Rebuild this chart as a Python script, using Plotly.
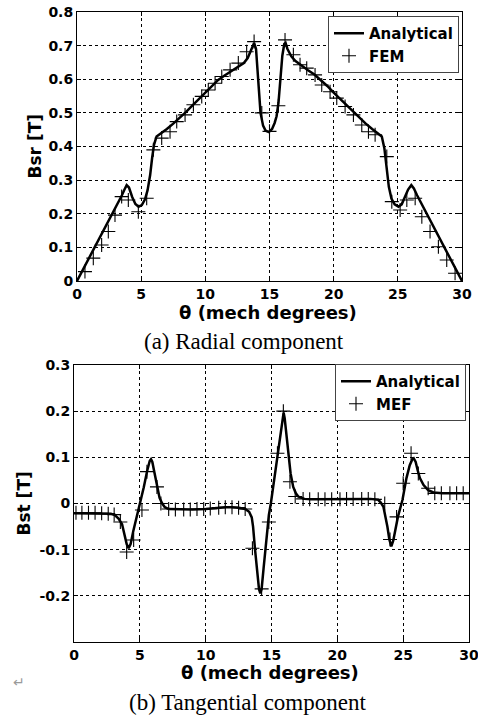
import plotly.graph_objects as go

# ---------------- Data: (a) radial component Bsr ----------------
theta_bsr_analytical = [0, 0.5, 1, 1.5, 2, 2.5, 3, 3.5, 3.7, 3.87, 4.05, 4.3, 4.55, 4.8, 5.05, 5.3, 5.5,
                        5.7, 5.85, 6.0, 6.2, 6.6, 7.0, 7.5, 8.0, 8.5, 9.0, 9.5, 10.0, 10.5, 11.0, 11.5,
                        12.0, 12.5, 13.0, 13.3, 13.55, 13.8, 13.95, 14.1, 14.3, 14.5, 14.7, 14.95,
                        15.2, 15.4, 15.55, 15.7, 15.85, 16.0, 16.15, 16.25, 16.4, 16.7, 17.0, 17.5,
                        18.0, 18.5, 19.0, 19.5, 20.0, 20.5, 21.0, 21.5, 22.0, 22.5, 23.0, 23.4, 23.75,
                        23.95, 24.1, 24.3, 24.5, 24.75, 25.05, 25.3, 25.55, 25.8, 26.05, 26.25, 26.5,
                        27.0, 27.5, 28.0, 28.5, 29.0, 29.5, 30.0]
bsr_analytical = [0.0, 0.036, 0.073, 0.109, 0.146, 0.182, 0.219, 0.255, 0.272, 0.285, 0.278, 0.25,
                  0.229, 0.221, 0.226, 0.243, 0.27, 0.315, 0.365, 0.405, 0.43, 0.44, 0.452, 0.468,
                  0.485, 0.503, 0.522, 0.541, 0.56, 0.58, 0.598, 0.611, 0.623, 0.635, 0.648, 0.663,
                  0.685, 0.708, 0.69, 0.62, 0.50, 0.462, 0.447, 0.443, 0.452, 0.47, 0.49, 0.53, 0.60,
                  0.67, 0.705, 0.708, 0.69, 0.668, 0.655, 0.64, 0.627, 0.614, 0.598, 0.58, 0.56,
                  0.541, 0.522, 0.503, 0.485, 0.468, 0.452, 0.44, 0.43, 0.395, 0.34, 0.28, 0.245,
                  0.228, 0.221, 0.228, 0.25, 0.272, 0.285, 0.275, 0.255, 0.218, 0.182, 0.145,
                  0.109, 0.073, 0.036, 0.0]

theta_bsr_fem = [0.62, 1.27, 1.92, 2.44, 2.96, 3.48, 4.0, 4.78, 5.43, 5.95, 6.6, 7.25, 7.77, 8.42,
                 9.07, 9.72, 10.23, 10.76, 11.28, 11.93, 12.57, 13.22, 13.8, 14.4, 15.0, 15.69,
                 16.21, 16.86, 17.38, 17.9, 18.55, 19.07, 19.72, 20.24, 20.89, 21.54, 22.19, 22.71,
                 23.23, 24.14, 24.53, 25.18, 25.7, 26.35, 26.87, 27.51, 28.16, 28.81, 29.46]
bsr_fem = [0.028, 0.068, 0.107, 0.147, 0.196, 0.251, 0.241, 0.206, 0.246, 0.39, 0.425, 0.444,
           0.474, 0.494, 0.524, 0.549, 0.568, 0.588, 0.608, 0.628, 0.648, 0.682, 0.712, 0.50,
           0.445, 0.521, 0.717, 0.673, 0.643, 0.633, 0.613, 0.583, 0.563, 0.544, 0.519, 0.494,
           0.464, 0.444, 0.435, 0.37, 0.236, 0.211, 0.241, 0.246, 0.191, 0.147, 0.102, 0.0625,
           0.023]

# ---------------- Data: (b) tangential component Bst ----------------
theta_bst_analytical = [0, 1, 2, 2.8, 3.1, 3.4, 3.65, 3.85, 4.0, 4.15, 4.3, 4.5, 4.75, 5.04, 5.3,
                        5.55, 5.75, 5.85, 5.95, 6.1, 6.3, 6.5, 6.7, 6.9, 7.2, 8, 9, 10, 11, 11.5,
                        12.0, 12.5, 13.0, 13.3, 13.5, 13.6, 13.75, 13.9, 14.05, 14.15, 14.25, 14.4,
                        14.6, 14.8, 14.95, 15.2, 15.45, 15.7, 15.85, 15.92, 16.0, 16.15, 16.27,
                        16.45, 16.65, 16.85, 17.03, 17.5, 18, 19, 20, 21, 22, 22.5, 23.1, 23.3,
                        23.5, 23.65, 23.8, 23.95, 24.1, 24.25, 24.45, 24.6, 24.95, 25.25, 25.5,
                        25.7, 25.8, 25.95, 26.1, 26.27, 26.55, 26.9, 27.3, 28, 29, 30]
bst_analytical = [-0.021, -0.021, -0.021, -0.022, -0.025, -0.033, -0.045, -0.068, -0.088, -0.097,
                  -0.088, -0.06, -0.03, 0.0, 0.035, 0.07, 0.092, 0.096, 0.09, 0.068, 0.036, 0.012,
                  0.0, -0.008, -0.012, -0.013, -0.013, -0.012, -0.009, -0.008, -0.008, -0.009,
                  -0.012, -0.018, -0.03, -0.05, -0.10, -0.15, -0.185, -0.195, -0.185, -0.14,
                  -0.08, -0.025, 0.0, 0.05, 0.10, 0.16, 0.19, 0.197, 0.185, 0.14, 0.108, 0.065,
                  0.036, 0.022, 0.015, 0.01, 0.009, 0.009, 0.009, 0.01, 0.01, 0.01, 0.008, 0.002,
                  -0.007, -0.025, -0.05, -0.078, -0.093, -0.08, -0.05, -0.029, 0.008, 0.055,
                  0.083, 0.096, 0.098, 0.09, 0.072, 0.055, 0.04, 0.029, 0.024, 0.022, 0.022, 0.022]

theta_bst_mef = [0.15, 0.6, 1.1, 1.6, 2.1, 2.6, 3.05, 3.52, 4.0, 4.53, 5.16, 5.54, 6.3, 6.6, 7.19,
                 7.7, 8.33, 8.83, 9.34, 9.85, 10.35, 10.99, 11.49, 12.0, 12.5, 13.0, 13.55, 14.25,
                 14.8, 15.45, 15.9, 16.4, 16.8, 17.4, 17.9, 18.55, 19.06, 19.57, 20.2, 20.7, 21.2,
                 21.85, 22.35, 22.85, 23.6, 24.0, 24.5, 25.0, 25.6, 26.15, 26.9, 27.4, 27.9,
                 28.55, 29.06, 29.56]
bst_mef = [-0.02, -0.02, -0.02, -0.02, -0.021, -0.022, -0.024, -0.04, -0.105, -0.079, -0.014,
           0.069, 0.036, 0.0, -0.012, -0.013, -0.013, -0.013, -0.012, -0.012, -0.011, -0.009,
           -0.008, -0.008, -0.009, -0.012, -0.097, -0.185, -0.04, 0.109, 0.200, 0.047, 0.015,
           0.01, 0.009, 0.009, 0.009, 0.009, 0.009, 0.01, 0.01, 0.01, 0.01, 0.009, 0.0, -0.078,
           -0.029, 0.044, 0.109, 0.065, 0.033, 0.022, 0.022, 0.022, 0.022, 0.022]

x_ticks = [0, 5, 10, 15, 20, 25, 30]
bsr_ticks = [0, 0.1, 0.2, 0.3, 0.4, 0.5, 0.6, 0.7, 0.8]
bst_ticks = [-0.2, -0.1, 0, 0.1, 0.2, 0.3]
bst_tick_text = ["-0.2", "-0.1", "0", "0.1", "0.2", "0.3"]

W, H = 478, 725
BOLD = dict(family="DejaVu Sans", size=14, color="black", weight="bold")
SERIF = dict(family="Liberation Serif", size=23, color="black")

fig = go.Figure()
line_style = dict(color="black", width=2.5)
marker_style = dict(symbol="cross-thin", size=10, color="black", line=dict(color="black", width=1.1))

fig.add_trace(go.Scatter(x=theta_bsr_analytical, y=bsr_analytical, mode="lines", name="Analytical",
                         line=line_style, xaxis="x", yaxis="y", legend="legend"))
fig.add_trace(go.Scatter(x=theta_bsr_fem, y=bsr_fem, mode="markers", name="FEM",
                         marker=marker_style, xaxis="x", yaxis="y", legend="legend"))
fig.add_trace(go.Scatter(x=theta_bst_analytical, y=bst_analytical, mode="lines", name="Analytical",
                         line=line_style, xaxis="x2", yaxis="y2", legend="legend2"))
fig.add_trace(go.Scatter(x=theta_bst_mef, y=bst_mef, mode="markers", name="MEF",
                         marker=marker_style, xaxis="x2", yaxis="y2", legend="legend2"))

axis_common = dict(showline=True, linecolor="black", linewidth=1, mirror="ticks",
                   ticks="inside", ticklen=4, tickcolor="black",
                   showgrid=True, gridcolor="black", gridwidth=1, griddash="3px,3px",
                   zeroline=False, tickfont=BOLD, automargin=False,
                   ticklabeloverflow="allow")

fig.update_layout(
    width=W, height=H,
    margin=dict(l=0, r=0, t=0, b=0),
    paper_bgcolor="white", plot_bgcolor="white",
    xaxis=dict(axis_common, domain=[77 / W, 462 / W], range=[0, 30], tickvals=x_ticks, anchor="y"),
    yaxis=dict(axis_common, domain=[1 - 281 / H, 1 - 12 / H], range=[0, 0.8], tickvals=bsr_ticks,
               anchor="x"),
    xaxis2=dict(axis_common, domain=[74 / W, 469 / W], range=[0, 30], tickvals=x_ticks, anchor="y2"),
    yaxis2=dict(axis_common, domain=[1 - 642 / H, 1 - 365 / H], range=[-0.3, 0.3],
                tickvals=bst_ticks, ticktext=bst_tick_text, anchor="x2"),
    legend=dict(x=459 / W, y=1 - 16 / H, xanchor="right", yanchor="top",
                bgcolor="white", bordercolor="#444", borderwidth=1,
                font=dict(family="DejaVu Sans", size=15, color="black", weight="bold"),
                tracegroupgap=0, itemwidth=30),
    legend2=dict(x=466 / W, y=1 - 364 / H, xanchor="right", yanchor="top",
                 bgcolor="white", bordercolor="#444", borderwidth=1,
                 font=dict(family="DejaVu Sans", size=15, color="black", weight="bold"),
                 tracegroupgap=0, itemwidth=30),
    showlegend=True,
)

ann = [
    dict(text="θ (mech degrees)", x=268 / W, y=1 - 312 / H,
         font=dict(family="DejaVu Sans", size=18, color="black", weight="bold")),
    dict(text="Bsr [T]", x=34 / W, y=1 - 146.5 / H, textangle=-90,
         font=dict(family="DejaVu Sans", size=17, color="black", weight="bold")),
    dict(text="(a) Radial component", x=243.5 / W, y=1 - 341 / H, font=SERIF),
    dict(text="θ (mech degrees)", x=270 / W, y=1 - 672 / H,
         font=dict(family="DejaVu Sans", size=18, color="black", weight="bold")),
    dict(text="Bst [T]", x=23 / W, y=1 - 503.5 / H, textangle=-90,
         font=dict(family="DejaVu Sans", size=17, color="black", weight="bold")),
    dict(text="(b) Tangential component", x=247 / W, y=1 - 702 / H, font=SERIF),
    dict(text="↵", x=19 / W, y=1 - 682 / H, font=dict(family="DejaVu Sans", size=14, color="#9a9a9a")),
]
for a in ann:
    fig.add_annotation(xref="paper", yref="paper", xanchor="center", yanchor="middle",
                       showarrow=False, **a)

fig.write_html("out.html")
